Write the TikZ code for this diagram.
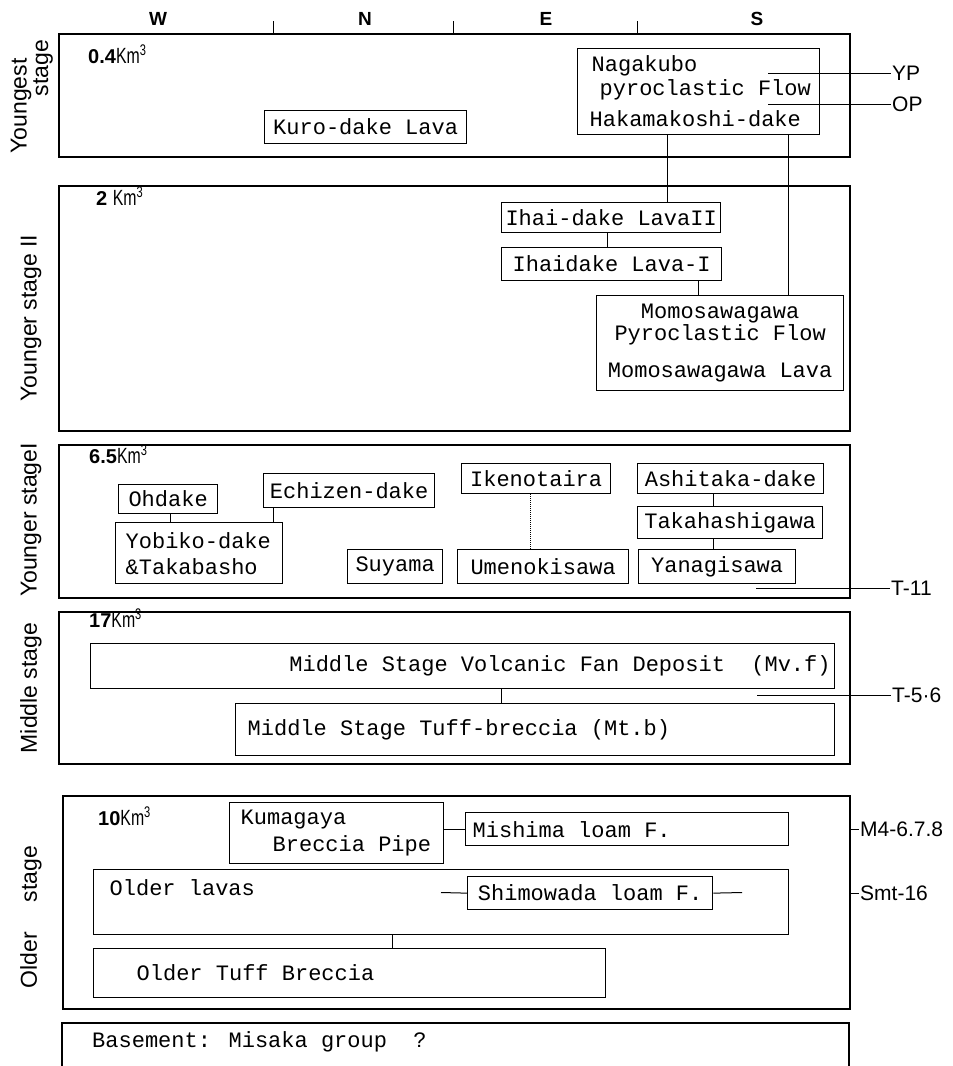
\documentclass[tikz,border=0pt]{standalone}
\usepackage{fontspec}
\setmainfont{Liberation Sans}
\newfontfamily\unitfont{Liberation Mono}
\newfontfamily\narrowfont[FakeStretch=0.72]{Liberation Sans}
\usetikzlibrary{positioning,calc}

\begin{document}
\begin{tikzpicture}[
  x=1pt, y=-1pt,
  wall/.style={line width=1.8pt},
  stage/.style={wall, draw, anchor=north west, inner sep=0pt, minimum width=791pt},
  unit/.style={draw, line width=1.3pt, anchor=north west, inner xsep=6pt, inner ysep=0pt,
    font=\unitfont\fontsize{22}{24}\selectfont,
    execute at begin node={\spaceskip=13.2pt\xspaceskip=13.2pt}},
  note/.style={anchor=base west, inner sep=0pt, font=\unitfont\fontsize{22}{24}\selectfont},
  era/.style={rotate=90, inner sep=0pt, font=\fontsize{23}{26}\selectfont},
  vol/.style={anchor=base west, inner sep=0pt, font=\fontsize{20}{22}\selectfont},
  compass/.style={inner sep=0pt, font=\bfseries\fontsize{19}{22}\selectfont},
  tag/.style={anchor=west, inner sep=1pt, font=\fontsize{21}{24}\selectfont},
  link/.style={line width=1pt},
]
\useasboundingbox (0,0) rectangle (953,1066);

% directions
\node[compass] (hw) at (158,19) {W};
\node[compass] (hn) at (365,19) {N};
\node[compass] (he) at (546,19) {E};
\node[compass] (hs) at (757,19) {S};
\foreach \x in {273,453,637} \draw[link] (\x,21) -- (\x,33);

% stages
\node[stage, minimum height=123pt] (young) at (58,33) {};
\node[stage, minimum height=245pt] (youngerII) at (58,185) {};
\node[stage, minimum height=153pt] (youngerI) at (58,444) {};
\node[stage, minimum height=152pt] (middle) at (58,611) {};
\node[stage, minimum width=787pt, minimum height=213pt] (older) at (62,795) {};
\draw[wall] (62,1066) |- (849,1023) -- (849,1066);

\node[era] (eraA) at (21,106) {Youngest};
\node[era] (eraB) at (43,68) {stage};
\node[era] (eraC) at (31,318) {Younger stage II};
\node[era] (eraD) at (31,520) {Younger stageI};
\node[era] (eraE) at (31,688) {Middle stage};
\node[era] (eraF) at (31,917) {Older\hspace{30pt}stage};

\node[vol] (v1) at (88,63) {\textbf{0.4}{\narrowfont\fontsize{22}{24}\selectfont Km\textsuperscript{3}}};
\node[vol] (v2) at (96,205) {\textbf{2} {\narrowfont\fontsize{22}{24}\selectfont Km\textsuperscript{3}}};
\node[vol] (v3) at (89,463) {\textbf{6.5}{\narrowfont\fontsize{22}{24}\selectfont Km\textsuperscript{3}}};
\node[vol] (v4) at (89,627) {\textbf{17}{\narrowfont\fontsize{22}{24}\selectfont Km\textsuperscript{3}}};
\node[vol] (v5) at (98,825) {\textbf{10}{\narrowfont\fontsize{22}{24}\selectfont Km\textsuperscript{3}}};

% youngest stage
\node[unit, minimum width=202pt, minimum height=33pt] (kuro) at (264,110) {Kuro-dake Lava};
\node[unit, align=left, text width=226pt, inner xsep=8pt, minimum height=86pt] (naga) at (577,48)
  {\hspace*{6pt}Nagakubo\\\hspace*{14pt}pyroclastic Flow\\[7pt]\hspace*{4pt}Hakamakoshi-dake};

% younger stage II
\node[unit, minimum width=219pt, minimum height=30pt, inner xsep=3pt] (ihai2) at (501,202) {Ihai-dake LavaII};
\node[unit, minimum width=220pt, minimum height=33pt] (ihai1) at (501,247) {Ihaidake Lava-I};
\node[unit, align=center, minimum width=247pt, minimum height=95pt] (momo) at (596,295)
  {Momosawagawa\\[-2pt]Pyroclastic Flow\\[13pt]Momosawagawa Lava};

% younger stage I
\node[unit, minimum width=99pt, minimum height=29pt] (ohdake) at (118,484) {Ohdake};
\node[unit, align=left, text width=147pt, inner xsep=10pt, minimum height=61pt] (yobiko) at (115,522)
  {Yobiko-dake\\[2pt]\&Takabasho};
\node[unit, minimum width=171pt, minimum height=34pt] (echizen) at (263,473) {Echizen-dake};
\node[unit, minimum width=95pt, minimum height=34pt] (suyama) at (347,549) {Suyama};
\node[unit, minimum width=149pt, minimum height=30pt] (ikeno) at (461,463) {Ikenotaira};
\node[unit, minimum width=171pt, minimum height=34pt] (umeno) at (457,549) {Umenokisawa};
\node[unit, minimum width=186pt, minimum height=30pt] (ashi) at (637,463) {Ashitaka-dake};
\node[unit, minimum width=185pt, minimum height=32pt] (taka) at (637,506) {Takahashigawa};
\node[unit, minimum width=157pt, minimum height=34pt] (yana) at (638,549) {Yanagisawa};

% middle stage
\node[unit, align=right, text width=736pt, inner xsep=4pt, minimum height=45pt] (mvf) at (90,643)
  {Middle Stage Volcanic Fan Deposit\ \ (Mv.f)};
\node[unit, align=left, text width=575pt, inner xsep=12pt, minimum height=52pt] (mtb) at (235,703)
  {Middle Stage Tuff-breccia (Mt.b)};

% older stage
\node[unit, align=left, text width=192pt, inner xsep=11pt, minimum height=61pt] (kuma) at (229,802)
  {Kumagaya\\[3pt]\hspace*{32pt}Breccia Pipe};
\node[unit, align=left, text width=309pt, inner xsep=7pt, minimum height=33pt] (mishima) at (465,812) {Mishima loam F.};
\node[unit, align=left, text width=663pt, inner xsep=16pt, text height=26pt, text depth=39pt] (lavas) at (93,869) {Older lavas};
\node[unit, minimum width=245pt, minimum height=33pt] (shimo) at (467,876) {Shimowada loam F.};
\node[unit, align=left, text width=426pt, inner xsep=43pt, minimum height=49pt] (tuff) at (93,948) {Older Tuff Breccia};

\node[note] (base) at (92,1047) {Basement: Misaka group\ \ ?};

% links
\draw[link] ([xshift=90pt]naga.south west) -- ([xshift=166pt]ihai2.north west);
\draw[link] ([xshift=211pt]naga.south west) -- ([xshift=192pt]momo.north west);
\draw[link] ([xshift=106pt]ihai2.south west) -- ([xshift=106pt]ihai1.north west);
\draw[link] ([xshift=197pt]ihai1.south west) -- ([xshift=102pt]momo.north west);
\draw[link] ([xshift=52pt]ohdake.south west) -- ([xshift=55pt]yobiko.north west);
\draw[link] ([xshift=10pt]echizen.south west) -- ([xshift=158pt]yobiko.north west);
\draw[link, densely dotted] ([xshift=69pt]ikeno.south west) -- ([xshift=73pt]umeno.north west);
\draw[link] ([xshift=76pt]ashi.south west) -- ([xshift=76pt]taka.north west);
\draw[link] ([xshift=76pt]taka.south west) -- ([xshift=75pt]yana.north west);
\draw[link] ([xshift=411pt]mvf.south west) -- ([xshift=266pt]mtb.north west);
\draw[link] ([xshift=299pt]lavas.south west) -- ([xshift=299pt]tuff.north west);
\draw[link] (kuma.east |- mishima.west) -- (mishima.west);

% horizons
\node[tag] (yp) at (891,73) {YP};
\node[tag] (op) at (891,104) {OP};
\node[tag] (t11) at (890,588) {T-11};
\node[tag] (t56) at (891,695) {T-5·6};
\node[tag] (m4) at (859,829) {M4-6.7.8};
\node[tag] (smt) at (859,893) {Smt-16};
\coordinate (ypin) at (768,73);
\coordinate (opin) at (768,104);
\coordinate (t11in) at (756,588);
\coordinate (t56in) at (757,695);
\coordinate (shl) at (441,892.5);
\coordinate (shr) at (742,892.5);
\draw[link] (ypin) -- (yp.west);
\draw[link] (opin) -- (op.west);
\draw[link] (t11in) -- (t11.west);
\draw[link] (t56in) -- (t56.west);
\draw[link] (older.east |- m4.west) -- (m4.west);
\draw[link] (older.east |- smt.west) -- (smt.west);
\draw[link] (shl) -- (shimo.west);
\draw[link] (shimo.east) -- (shr);
\end{tikzpicture}
\end{document}
